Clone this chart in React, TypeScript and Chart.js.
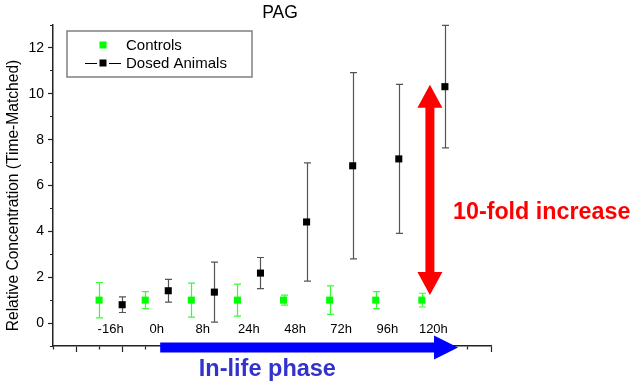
import React, { useEffect, useRef } from 'react';
import { Chart, registerables } from 'chart.js';

Chart.register(...registerables);

// ---- data ----
const timeLabels = ['-16h', '0h', '8h', '24h', '48h', '72h', '96h', '120h'];
const controlX = [2, 4, 6, 8, 10, 12, 14, 16];
const controlY = [1, 1, 1, 1, 1, 1, 1, 1];
const controlErr = [0.77, 0.37, 0.74, 0.7, 0.22, 0.62, 0.37, 0.3];
const dosedX = [3, 5, 7, 9, 11, 13, 15, 17];
const dosedY = [0.8, 1.41, 1.35, 2.18, 4.41, 6.86, 7.16, 10.31];
const dosedErr = [0.34, 0.5, 1.31, 0.68, 2.58, 4.06, 3.25, 2.67];
const yTickValues = [-1, 0, 1, 2, 3, 4, 5, 6, 7, 8, 9, 10, 11, 12, 13];
const xTickValues = [0, 1, 2, 3, 4, 5, 6, 7, 8, 9, 10, 11, 12, 13, 14, 15, 16, 17, 18, 19];
const yAxisTitle = 'Relative Concentration (Time-Matched)';

// annotation anchors (data units)
const foldArrowX = 16.35;
const foldArrowFrom = 1.22;
const foldArrowTo = 10.39;
const phaseArrowFrom = 4.65;
const phaseArrowTo = 17.57;

const FONT = "'Liberation Sans', Arial, sans-serif";

const errorBarPlugin = {
  id: 'errorBars',
  beforeDatasetsDraw(chart: any) {
    const ctx = chart.ctx;
    const xs = chart.scales.x;
    const ys = chart.scales.y;
    chart.data.datasets.forEach((ds: any) => {
      ctx.save();
      ctx.strokeStyle = ds.errorColor;
      ctx.lineWidth = 1.2;
      ds.data.forEach((p: any, j: number) => {
        const e = ds.errors[j];
        const x = Math.round(xs.getPixelForValue(p.x)) + 0.5;
        const yH = ys.getPixelForValue(p.y + e);
        const yL = ys.getPixelForValue(p.y - e);
        ctx.beginPath();
        ctx.moveTo(x, yH);
        ctx.lineTo(x, yL);
        ctx.moveTo(x - 3.5, yH);
        ctx.lineTo(x + 3.5, yH);
        ctx.moveTo(x - 3.5, yL);
        ctx.lineTo(x + 3.5, yL);
        ctx.stroke();
      });
      ctx.restore();
    });
  },
};

const annotationPlugin = {
  id: 'annotations',
  afterDraw(chart: any) {
    const ctx = chart.ctx;
    const xs = chart.scales.x;
    const ys = chart.scales.y;
    const ca = chart.chartArea;
    ctx.save();

    // title
    ctx.fillStyle = '#000';
    ctx.font = `17.5px ${FONT}`;
    ctx.textAlign = 'center';
    ctx.textBaseline = 'middle';
    ctx.fillText('PAG', (ca.left + ca.right) / 2 + 8, ca.top - 12);

    // y axis title
    ctx.save();
    ctx.translate(13.5, (ca.top + ca.bottom) / 2 + 10);
    ctx.rotate(-Math.PI / 2);
    ctx.font = `15.6px ${FONT}`;
    ctx.fillText(yAxisTitle, 0, 0);
    ctx.restore();

    // time labels
    ctx.font = `13px ${FONT}`;
    timeLabels.forEach((t, i) => {
      const xv = (controlX[i] + dosedX[i]) / 2;
      ctx.fillText(t, xs.getPixelForValue(xv), ys.getPixelForValue(-0.27));
    });

    // legend
    const lx = ca.left + 14;
    const ly = ca.top + 6;
    ctx.strokeStyle = '#808080';
    ctx.lineWidth = 1.5;
    ctx.strokeRect(lx, ly, 185, 46);
    ctx.textAlign = 'left';
    ctx.font = `15px ${FONT}`;
    chart.data.datasets.forEach((ds: any, i: number) => {
      const cy = ly + 14 + i * 18;
      const sx = lx + 36;
      if (ds.legendLine) {
        ctx.strokeStyle = '#000';
        ctx.lineWidth = 1;
        ctx.beginPath();
        ctx.moveTo(sx - 18, cy + 0.5);
        ctx.lineTo(sx - 6, cy + 0.5);
        ctx.moveTo(sx + 6, cy + 0.5);
        ctx.lineTo(sx + 18, cy + 0.5);
        ctx.stroke();
      }
      ctx.fillStyle = ds.backgroundColor;
      ctx.fillRect(sx - 3.5, cy - 3.5, 7, 7);
      ctx.fillStyle = '#000';
      ctx.fillText(ds.label, lx + 59, cy + 1);
    });

    // red double arrow
    const rx = xs.getPixelForValue(foldArrowX);
    const rt = ys.getPixelForValue(foldArrowTo);
    const rb = ys.getPixelForValue(foldArrowFrom);
    const sh = 4.5, hw = 12.5, hl = 23;
    ctx.fillStyle = '#ff0000';
    ctx.beginPath();
    ctx.moveTo(rx, rt);
    ctx.lineTo(rx + hw, rt + hl);
    ctx.lineTo(rx + sh, rt + hl);
    ctx.lineTo(rx + sh, rb - hl);
    ctx.lineTo(rx + hw, rb - hl);
    ctx.lineTo(rx, rb);
    ctx.lineTo(rx - hw, rb - hl);
    ctx.lineTo(rx - sh, rb - hl);
    ctx.lineTo(rx - sh, rt + hl);
    ctx.lineTo(rx - hw, rt + hl);
    ctx.closePath();
    ctx.fill();

    ctx.font = `bold 23.3px ${FONT}`;
    ctx.textAlign = 'left';
    ctx.fillText('10-fold increase', xs.getPixelForValue(17.35), ys.getPixelForValue(4.8));

    // blue arrow
    const bx0 = xs.getPixelForValue(phaseArrowFrom);
    const bx1 = xs.getPixelForValue(phaseArrowTo);
    const by = ca.bottom + 1.5;
    ctx.fillStyle = '#0000ff';
    ctx.beginPath();
    ctx.moveTo(bx0, by - 5);
    ctx.lineTo(bx1 - 24, by - 5);
    ctx.lineTo(bx1 - 24, by - 12);
    ctx.lineTo(bx1, by);
    ctx.lineTo(bx1 - 24, by + 12);
    ctx.lineTo(bx1 - 24, by + 5);
    ctx.lineTo(bx0, by + 5);
    ctx.closePath();
    ctx.fill();

    ctx.fillStyle = '#3333cc';
    ctx.font = `bold 23.5px ${FONT}`;
    ctx.textAlign = 'center';
    ctx.fillText('In-life phase', xs.getPixelForValue(9.3), by + 22);

    ctx.restore();
  },
};

export default function App() {
  const ref = useRef<HTMLCanvasElement>(null);
  useEffect(() => {
    if (!ref.current) return;
    const chart = new Chart(ref.current, {
      type: 'scatter',
      data: {
        datasets: [
          {
            label: 'Controls',
            data: controlX.map((x, i) => ({ x, y: controlY[i] })),
            backgroundColor: '#00ff00',
            borderWidth: 0,
            pointStyle: 'rect',
            pointRadius: 5,
            showLine: false,
            errors: controlErr,
            errorColor: '#33ff33',
            legendLine: false,
          } as any,
          {
            label: 'Dosed Animals',
            data: dosedX.map((x, i) => ({ x, y: dosedY[i] })),
            backgroundColor: '#000000',
            borderWidth: 0,
            pointStyle: 'rect',
            pointRadius: 5,
            showLine: false,
            errors: dosedErr,
            errorColor: '#555555',
            legendLine: true,
          } as any,
        ],
      },
      options: {
        animation: false,
        responsive: true,
        maintainAspectRatio: false,
        layout: { padding: { top: 25, right: 150, bottom: 0, left: 0 } },
        plugins: {
          legend: { display: false },
          title: { display: false },
          tooltip: { enabled: false },
        },
        scales: {
          x: {
            type: 'linear',
            position: 'bottom',
            min: 0,
            max: 19,
            afterBuildTicks: (s: any) => {
              s.ticks = xTickValues.map((v) => ({ value: v }));
            },
            afterFit: (s: any) => {
              s.height = 42;
            },
            ticks: { display: true, callback: () => '' },
            grid: {
              display: true,
              drawOnChartArea: false,
              drawTicks: true,
              tickLength: 6,
              tickColor: '#222',
              tickWidth: 1.2,
              tickBorderDash: (c: any) => (c.tick && c.tick.value % 2 === 0 ? [3, 100] : []),
            },
            border: { display: true, color: '#222', width: 1.5 },
          },
          y: {
            type: 'linear',
            position: 'left',
            min: -1,
            max: 13,
            afterBuildTicks: (s: any) => {
              s.ticks = yTickValues.map((v) => ({ value: v }));
            },
            afterFit: (s: any) => {
              s.width = 53;
            },
            ticks: {
              padding: 4,
              color: '#000',
              font: { family: FONT, size: 14 },
              callback: (v: any) => (Number(v) % 2 === 0 ? String(v) : ''),
            },
            grid: {
              display: true,
              drawOnChartArea: false,
              drawTicks: true,
              tickLength: 5,
              tickColor: '#222',
              tickWidth: 1.2,
              tickBorderDash: (c: any) => (c.tick && Math.abs(c.tick.value % 2) === 1 ? [0, 2, 3, 100] : []),
            },
            border: { display: true, color: '#222', width: 1.5 },
          },
        },
      },
      plugins: [errorBarPlugin, annotationPlugin],
    });
    return () => chart.destroy();
  }, []);
  return (
    <div style={{ position: 'fixed', left: 0, top: 0, width: 641, height: 388, background: '#fff' }}>
      <canvas ref={ref} />
    </div>
  );
}
